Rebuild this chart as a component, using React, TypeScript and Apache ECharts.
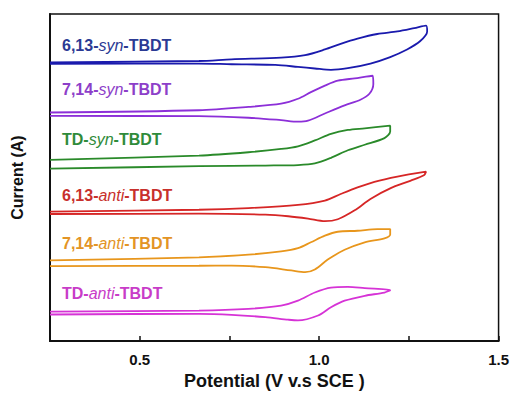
import React, { useEffect, useRef } from "react";
import * as echarts from "echarts";

// Potential (V vs SCE) and current (a.u., stacked with offsets).
// Each curve: anodic sweep (left -> vertex) then reverse sweep (vertex -> left).
const syn613_E = [0.25, 0.665, 0.756, 0.894, 0.961, 1.016, 1.06, 1.107, 1.162, 1.218, 1.265, 1.298, 1.301, 1.281, 1.245, 1.198, 1.143, 1.08, 1.033, 0.988, 0.941, 0.878, 0.756, 0.665, 0.25];
const syn613_I = [283, 284.3, 286, 287.7, 290.3, 296, 301.7, 307, 311.7, 314.3, 317.7, 320.3, 314.3, 304.3, 296, 288.3, 281.7, 277, 275.3, 276.7, 278.3, 280.3, 281, 281.7, 281.5];

const syn714_E = [0.25, 0.665, 0.803, 0.894, 0.941, 0.977, 1.016, 1.052, 1.099, 1.149, 1.151, 1.14, 1.115, 1.071, 1.016, 0.969, 0.941, 0.894, 0.803, 0.665, 0.25];
const syn714_I = [232, 234.3, 237.7, 241, 246, 252.7, 259.3, 264.3, 266.7, 269.3, 261, 251, 245, 239.3, 231, 223.7, 222.7, 224.3, 226.7, 228.3, 228.5];

const synTD_E = [0.25, 0.665, 0.803, 0.894, 0.941, 0.988, 1.033, 1.08, 1.127, 1.198, 1.198, 1.182, 1.127, 1.08, 1.033, 0.988, 0.941, 0.85, 0.665, 0.25];
const synTD_I = [184, 188.3, 191.7, 195, 197.7, 203.7, 210.3, 214.3, 216, 218.7, 212.7, 206, 199.3, 193.7, 186, 180.3, 178.7, 178.2, 177.5, 175];

const anti613_E = [0.25, 0.665, 0.803, 0.941, 1.016, 1.06, 1.107, 1.154, 1.218, 1.298, 1.292, 1.254, 1.198, 1.143, 1.099, 1.052, 1.016, 0.969, 0.914, 0.85, 0.665, 0.25];
const anti613_I = [131.5, 133.3, 135, 138.3, 142.7, 149.3, 156, 161.7, 167, 172, 168.3, 162.7, 155, 144.3, 132.7, 123.7, 121.7, 124.3, 126.7, 128.3, 129.3, 129];

const anti714_E = [0.25, 0.665, 0.803, 0.894, 0.941, 0.977, 1.016, 1.052, 1.107, 1.162, 1.198, 1.198, 1.182, 1.127, 1.071, 1.024, 0.988, 0.961, 0.922, 0.85, 0.756, 0.665, 0.25];
const anti714_I = [82, 85, 87.7, 91, 94.3, 100.3, 107, 111, 112, 113.7, 113.7, 108.3, 104.3, 100.3, 92.7, 82.7, 72.7, 70, 71.7, 75, 76.7, 76.5, 76];

const antiTD_E = [0.25, 0.665, 0.803, 0.894, 0.941, 0.988, 1.033, 1.08, 1.127, 1.198, 1.182, 1.127, 1.071, 1.033, 0.997, 0.941, 0.914, 0.85, 0.756, 0.665, 0.25];
const antiTD_I = [30, 31, 32.7, 36, 41, 49.3, 54.3, 55, 53.7, 51.7, 49.3, 46, 41, 34.3, 26, 21, 21.7, 24.3, 26.7, 27.7, 27];

const compoundPrefix = ["6,13-", "7,14-", "TD-", "6,13-", "7,14-", "TD-"];
const compoundIsomer = ["syn", "syn", "syn", "anti", "anti", "anti"];
const lineColors = ["#1a1aad", "#8c2fd8", "#2a8a2a", "#d62626", "#e8961c", "#d633d6"];
const textColors = ["#2b3a94", "#8d3fc9", "#2f8b3a", "#c8302c", "#e39425", "#c83cc8"];

const xTickLabels = ["0.5", "1.0", "1.5"];

const curves = [
  [syn613_E, syn613_I],
  [syn714_E, syn714_I],
  [synTD_E, synTD_I],
  [anti613_E, anti613_I],
  [anti714_E, anti714_I],
  [antiTD_E, antiTD_I],
];

const FONT = 'Arial, "Liberation Sans", sans-serif';

export default function App() {
  const ref = useRef<HTMLDivElement>(null);
  useEffect(() => {
    if (!ref.current) return;
    const chart = echarts.init(ref.current, undefined, { renderer: "svg" });
    const labelY = [46, 90, 140, 196, 244, 294];
    chart.setOption({
      animation: false,
      backgroundColor: "#fff",
      grid: { left: 50, right: 10, top: 14, bottom: 49, show: true, borderColor: "#111", borderWidth: 1.5, backgroundColor: "transparent" },
      xAxis: {
        type: "value",
        min: 0.25,
        max: 1.5,
        interval: 0.25,
        splitLine: { show: false },
        axisLine: { show: true, lineStyle: { color: "#111", width: 2 } },
        axisTick: { show: true, inside: true, length: 5, lineStyle: { color: "#111", width: 1.5 } },
        axisLabel: {
          margin: 11,
          fontFamily: FONT,
          fontWeight: "bold",
          fontSize: 15,
          color: "#111",
          showMinLabel: true,
          showMaxLabel: true,
          formatter: (v: number) => {
            const s = v.toFixed(1);
            return xTickLabels.includes(s) && Math.abs(v * 2 - Math.round(v * 2)) < 1e-6 ? s : "";
          },
        },
        name: "Potential (V v.s SCE )",
        nameLocation: "middle",
        nameGap: 29,
        nameTextStyle: { fontFamily: FONT, fontWeight: "bold", fontSize: 18, color: "#111" },
      },
      yAxis: {
        type: "value",
        min: 0,
        max: 332,
        splitLine: { show: false },
        axisLine: { show: true, lineStyle: { color: "#111", width: 2 } },
        axisTick: { show: false },
        axisLabel: { show: false },
        name: "Current (A)",
        nameLocation: "middle",
        nameGap: 25,
        nameRotate: 90,
        nameTextStyle: { fontFamily: FONT, fontWeight: "bold", fontSize: 16, color: "#111" },
      },
      series: curves.map(([E, I], k) => ({
        type: "line",
        data: E.map((e, i) => [e, I[i]]),
        smooth: 0.3,
        showSymbol: false,
        symbol: "none",
        lineStyle: { color: lineColors[k], width: 1.8 },
        z: 2,
      })),
      graphic: compoundPrefix.map((p, k) => ({
        type: "text",
        left: 62,
        top: labelY[k] - 9,
        style: {
          text: `{a|${p}}{i|${compoundIsomer[k]}}{a|-TBDT}`,
          rich: {
            a: { fontFamily: FONT, fontWeight: "bold", fontSize: 16, fill: textColors[k] },
            i: { fontFamily: FONT, fontStyle: "italic", fontWeight: "normal", fontSize: 16, fill: textColors[k] },
          },
        },
      })),
    });
    return () => chart.dispose();
  }, []);
  return <div ref={ref} style={{ position: "fixed", left: 0, top: 0, width: 512, height: 395 }} />;
}
